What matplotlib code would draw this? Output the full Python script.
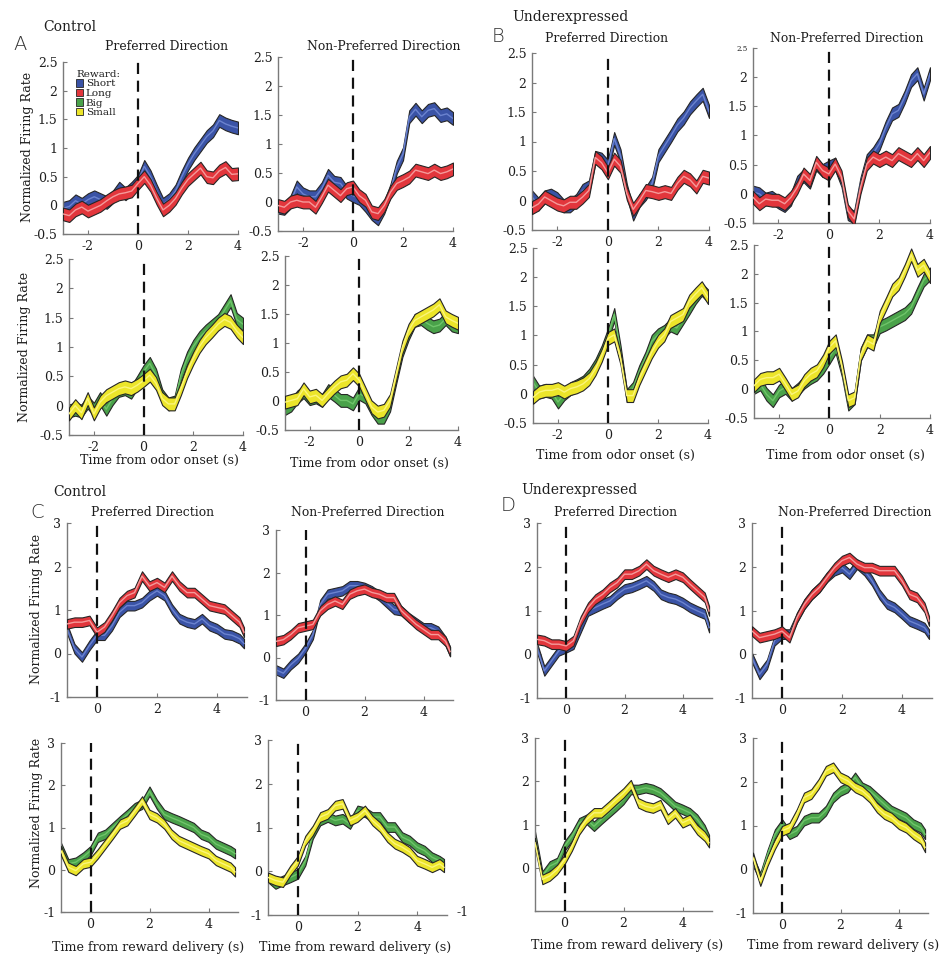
import numpy as np
import matplotlib
matplotlib.use("Agg")
import matplotlib.pyplot as plt
from matplotlib.patches import Patch
from matplotlib.ticker import FixedLocator, FixedFormatter

W, H = 944, 956
plt.rcParams['font.family'] = ['DejaVu Serif', 'DejaVu Sans']

# ---------------- time grids ----------------
t_odor = np.arange(-3, 4.01, 0.25)                       # 29 points
t_rew = np.append(np.arange(-1, 4.76, 0.25), 4.9)         # 25 points

# ---------------- data: odor onset (A = Control, B = Underexpressed) ----------------
A_pref_short = [-0.05, -0.02, 0.08, 0.02, 0.10, 0.15, 0.10, 0.05, 0.15, 0.30, 0.20, 0.30, 0.42, 0.68, 0.50,
                0.25, 0.02, 0.10, 0.25, 0.50, 0.72, 0.90, 1.05, 1.20, 1.30, 1.48, 1.42, 1.38, 1.35]
A_pref_long = [-0.15, -0.18, -0.08, -0.03, -0.10, -0.05, 0.00, 0.08, 0.15, 0.20, 0.22, 0.25, 0.38, 0.50, 0.35,
               0.12, -0.08, 0.00, 0.12, 0.30, 0.45, 0.55, 0.65, 0.50, 0.48, 0.60, 0.66, 0.54, 0.55]
A_non_short = [-0.09, -0.11, 0.00, 0.26, 0.14, 0.09, 0.09, 0.23, 0.46, 0.34, 0.32, 0.17, 0.11, 0.06, -0.06,
               -0.20, -0.29, -0.09, 0.20, 0.60, 0.83, 1.47, 1.60, 1.47, 1.58, 1.61, 1.49, 1.52, 1.44]
A_non_long = [-0.06, -0.09, 0.00, 0.03, 0.00, 0.00, -0.09, 0.09, 0.29, 0.20, 0.11, 0.23, 0.26, 0.11, 0.03,
              -0.17, -0.20, -0.06, 0.17, 0.32, 0.37, 0.43, 0.55, 0.52, 0.49, 0.55, 0.49, 0.52, 0.57]
A_pref_big = [-0.09, -0.06, -0.09, 0.06, -0.06, 0.12, -0.06, 0.12, 0.26, 0.29, 0.23, 0.40, 0.58, 0.72, 0.52,
              0.17, 0.03, 0.06, 0.52, 0.81, 1.01, 1.16, 1.27, 1.36, 1.45, 1.62, 1.79, 1.47, 1.39]
A_pref_small = [-0.14, 0.00, -0.12, 0.12, -0.14, 0.06, 0.17, 0.23, 0.29, 0.32, 0.29, 0.35, 0.43, 0.52, 0.38,
                0.12, 0.03, 0.03, 0.29, 0.58, 0.81, 1.01, 1.16, 1.27, 1.39, 1.47, 1.42, 1.27, 1.16]
A_non_big = [-0.13, -0.07, 0.07, 0.16, 0.04, 0.07, 0.01, 0.18, 0.10, 0.01, 0.01, -0.05, 0.13, 0.07, -0.13,
             -0.28, -0.28, -0.07, 0.41, 0.87, 1.16, 1.39, 1.42, 1.34, 1.28, 1.31, 1.42, 1.31, 1.28]
A_non_small = [-0.02, 0.01, 0.04, 0.21, 0.07, 0.10, 0.01, 0.13, 0.24, 0.33, 0.36, 0.47, 0.36, 0.13, -0.10,
               -0.19, -0.16, 0.01, 0.47, 0.93, 1.22, 1.39, 1.45, 1.51, 1.57, 1.66, 1.45, 1.39, 1.34]

B_pref_short = [0.06, -0.06, 0.06, 0.09, 0.03, -0.09, -0.09, 0.00, 0.17, 0.23, 0.73, 0.70, 0.58, 1.05, 0.76,
                0.17, -0.23, 0.00, 0.12, 0.29, 0.76, 0.93, 1.10, 1.28, 1.40, 1.57, 1.69, 1.80, 1.51]
B_pref_long = [-0.12, -0.06, 0.06, 0.00, -0.06, -0.09, -0.03, -0.03, 0.06, 0.17, 0.73, 0.64, 0.47, 0.70, 0.58,
               0.12, -0.15, 0.00, 0.17, 0.15, 0.12, 0.15, 0.12, 0.29, 0.41, 0.35, 0.23, 0.41, 0.38]
B_non_short = [0.03, 0.00, -0.09, -0.06, -0.14, -0.20, -0.09, 0.20, 0.31, 0.20, 0.51, 0.40, 0.46, 0.51, 0.23,
               -0.34, -0.40, 0.17, 0.57, 0.69, 0.86, 1.14, 1.37, 1.43, 1.66, 1.94, 2.06, 1.71, 2.06]
B_non_long = [-0.06, -0.17, -0.09, -0.11, -0.11, -0.17, -0.06, 0.11, 0.34, 0.23, 0.54, 0.40, 0.34, 0.51, 0.29,
              -0.29, -0.43, 0.11, 0.51, 0.63, 0.57, 0.63, 0.57, 0.69, 0.63, 0.57, 0.69, 0.57, 0.71]
B_pref_big = [0.20, 0.03, 0.06, 0.03, -0.14, 0.00, 0.09, 0.14, 0.20, 0.32, 0.49, 0.72, 1.01, 1.36, 0.72,
              -0.03, 0.09, 0.38, 0.61, 0.90, 1.01, 1.07, 1.18, 1.13, 1.30, 1.47, 1.65, 1.79, 1.68]
B_pref_small = [-0.06, 0.03, 0.06, 0.06, 0.09, 0.03, 0.09, 0.12, 0.17, 0.26, 0.43, 0.66, 0.95, 1.01, 0.61,
                -0.03, -0.03, 0.26, 0.49, 0.72, 0.90, 1.01, 1.24, 1.30, 1.36, 1.59, 1.71, 1.82, 1.65]
B_non_big = [0.03, 0.09, -0.09, -0.20, -0.03, 0.03, -0.09, 0.00, 0.12, 0.20, 0.26, 0.38, 0.55, 0.73, 0.32,
             -0.26, -0.15, 0.61, 0.84, 0.84, 1.08, 1.13, 1.19, 1.25, 1.31, 1.42, 1.66, 1.89, 2.00]
B_non_small = [0.06, 0.17, 0.20, 0.20, 0.26, 0.09, -0.09, -0.03, 0.15, 0.26, 0.32, 0.49, 0.73, 0.84, 0.38,
               -0.20, -0.15, 0.61, 0.84, 0.78, 1.25, 1.48, 1.72, 1.83, 2.06, 2.33, 2.06, 2.15, 1.95]

# ---------------- data: reward delivery (C = Control, D = Underexpressed) ----------------
C_pref_short = [0.57, 0.11, -0.08, 0.19, 0.42, 0.42, 0.64, 0.95, 1.10, 1.10, 1.17, 1.33, 1.44, 1.33, 1.02,
                0.80, 0.72, 0.68, 0.80, 0.64, 0.57, 0.45, 0.42, 0.34, 0.23]
C_pref_long = [0.68, 0.72, 0.72, 0.76, 0.49, 0.61, 0.87, 1.17, 1.33, 1.40, 1.78, 1.55, 1.63, 1.52, 1.78,
               1.55, 1.40, 1.40, 1.25, 1.10, 1.06, 1.02, 0.87, 0.72, 0.49]
C_non_short = [-0.29, -0.37, -0.17, -0.02, 0.22, 0.54, 1.25, 1.49, 1.53, 1.57, 1.69, 1.69, 1.65, 1.57, 1.45,
               1.29, 1.13, 1.10, 0.94, 0.82, 0.70, 0.70, 0.62, 0.38, 0.14]
C_non_long = [0.38, 0.42, 0.54, 0.70, 0.74, 0.78, 1.10, 1.25, 1.33, 1.25, 1.49, 1.57, 1.61, 1.53, 1.49,
              1.41, 1.41, 1.10, 0.94, 0.78, 0.66, 0.54, 0.54, 0.38, 0.14]
C_pref_big = [0.53, 0.14, 0.18, 0.30, 0.45, 0.77, 0.84, 1.00, 1.16, 1.31, 1.47, 1.55, 1.86, 1.55, 1.31,
              1.23, 1.16, 1.08, 1.00, 0.84, 0.77, 0.61, 0.53, 0.45, 0.38]
C_pref_small = [0.45, 0.06, -0.02, 0.14, 0.18, 0.38, 0.61, 0.84, 1.08, 1.16, 1.39, 1.63, 1.31, 1.23, 1.08,
                0.84, 0.69, 0.61, 0.53, 0.45, 0.38, 0.22, 0.14, 0.06, -0.05]
C_non_big = [-0.14, -0.29, -0.21, -0.14, -0.06, 0.24, 0.85, 1.16, 1.24, 1.16, 1.20, 1.08, 1.39, 1.35, 1.24,
             1.24, 1.01, 1.01, 0.78, 0.70, 0.55, 0.47, 0.32, 0.24, 0.17]
C_non_small = [-0.14, -0.21, -0.25, 0.02, 0.24, 0.70, 0.93, 1.24, 1.31, 1.50, 1.54, 1.16, 1.24, 1.39, 1.16,
               1.01, 0.78, 0.63, 0.55, 0.44, 0.24, 0.17, 0.09, 0.17, 0.09]

D_pref_short = [0.15, -0.38, -0.15, 0.08, 0.15, 0.23, 0.61, 0.99, 1.07, 1.15, 1.22, 1.37, 1.49, 1.53, 1.60,
                1.68, 1.56, 1.37, 1.30, 1.26, 1.18, 1.07, 0.99, 0.92, 0.61]
D_pref_long = [0.34, 0.31, 0.23, 0.23, 0.19, 0.31, 0.76, 1.07, 1.26, 1.37, 1.53, 1.64, 1.83, 1.83, 1.91,
               2.06, 1.91, 1.83, 1.76, 1.83, 1.76, 1.60, 1.45, 1.30, 0.99]
D_non_short = [-0.08, -0.46, -0.23, 0.31, 0.46, 0.46, 0.84, 1.15, 1.37, 1.53, 1.76, 1.91, 1.98, 1.83, 2.06,
               1.91, 1.68, 1.37, 1.15, 1.07, 0.92, 0.76, 0.69, 0.61, 0.46]
D_non_long = [0.53, 0.38, 0.42, 0.46, 0.53, 0.38, 0.84, 1.15, 1.37, 1.53, 1.76, 1.98, 2.14, 2.21, 2.06,
              1.98, 1.98, 1.91, 1.91, 1.91, 1.68, 1.37, 1.30, 1.07, 0.76]
D_pref_big = [0.73, -0.19, 0.04, 0.12, 0.50, 0.73, 1.04, 1.12, 0.96, 1.12, 1.27, 1.42, 1.58, 1.81, 1.81,
              1.85, 1.81, 1.73, 1.58, 1.42, 1.35, 1.27, 1.12, 0.88, 0.65]
D_pref_small = [0.58, -0.27, -0.19, -0.04, 0.19, 0.50, 0.88, 1.12, 1.27, 1.27, 1.42, 1.58, 1.73, 1.92, 1.50,
                1.42, 1.38, 1.46, 1.12, 1.27, 1.04, 1.12, 0.88, 0.73, 0.58]
D_non_big = [0.19, -0.19, 0.34, 0.80, 1.03, 0.80, 0.88, 1.11, 1.18, 1.18, 1.34, 1.64, 1.79, 1.87, 2.10,
             1.87, 1.79, 1.64, 1.49, 1.34, 1.26, 1.18, 1.03, 0.95, 0.80]
D_non_small = [0.27, -0.27, 0.19, 0.57, 0.88, 0.95, 1.26, 1.64, 1.72, 1.95, 2.25, 2.33, 2.10, 2.02, 1.87,
               1.79, 1.64, 1.41, 1.26, 1.18, 1.03, 0.95, 0.80, 0.69, 0.50]

SEM = 0.11   # half-width of shaded bands

# ---------------- labels ----------------
odor_yticks = [-0.5, 0, 0.5, 1, 1.5, 2, 2.5]
odor_ylabels = ['-0.5', '0', '0.5', '1', '1.5', '2', '2.5']
odor_xticks = [-2, 0, 2, 4]
odor_xlabels = ['-2', '0', '2', '4']
rew_yticks = [-1, 0, 1, 2, 3]
rew_ylabels = ['-1', '0', '1', '2', '3']
rew_xticks = [0, 2, 4]
rew_xlabels = ['0', '2', '4']
legend_labels = ['Short', 'Long', 'Big', 'Small']

# ---------------- colours ----------------
COL = {
    'Short': ('#3a53a6', '#6b83cf'),
    'Long': ('#e2363c', '#f49a9a'),
    'Big': ('#4aa24a', '#6fc46a'),
    'Small': ('#ece52a', '#fbf57a'),
}
EDGE = '#262626'
SPINE = '#7a7a7a'
TXT = '#1e1e1e'

fig = plt.figure(figsize=(W / 100, H / 100), dpi=100)


def fx(x):
    return x / W


def fy(y):
    return 1 - y / H


def make_axes(x0, x1, ytop, ybot, kind):
    ax = fig.add_axes([fx(x0), fy(ybot), (x1 - x0) / W, (ybot - ytop) / H])
    for s in ['top', 'right']:
        ax.spines[s].set_visible(False)
    for s in ['left', 'bottom']:
        ax.spines[s].set_color(SPINE)
        ax.spines[s].set_linewidth(1.0)
    if kind == 'odor':
        ax.set_xlim(-3, 4)
        ax.set_ylim(-0.5, 2.5)
        ax.xaxis.set_major_locator(FixedLocator(odor_xticks))
        ax.xaxis.set_major_formatter(FixedFormatter(odor_xlabels))
        ax.yaxis.set_major_locator(FixedLocator(odor_yticks))
        ax.yaxis.set_major_formatter(FixedFormatter(odor_ylabels))
    else:
        ax.set_xlim(-1, 5)
        ax.set_ylim(-1, 3)
        ax.xaxis.set_major_locator(FixedLocator(rew_xticks))
        ax.xaxis.set_major_formatter(FixedFormatter(rew_xlabels))
        ax.yaxis.set_major_locator(FixedLocator(rew_yticks))
        ax.yaxis.set_major_formatter(FixedFormatter(rew_ylabels))
    ax.tick_params(direction='in', length=3, width=0.8, color=SPINE,
                   labelsize=9, labelcolor=TXT, pad=4)
    ax.axvline(0, color='#111111', lw=1.6, ls=(0, (5, 3)), zorder=4)
    return ax


def band(ax, t, m, key, z):
    m = np.asarray(m, dtype=float)
    fc, cc = COL[key]
    ax.fill_between(t, m - SEM, m + SEM, facecolor=fc, edgecolor=EDGE,
                    linewidth=0.8, zorder=z)
    ax.plot(t, m, color=cc, lw=1.0, zorder=z + 0.1)


# (x0, x1, y_top, y_bottom, kind, t, series1, key1, series2, key2)
panels = [
    (63, 238, 62, 234, 'odor', t_odor, A_pref_short, 'Short', A_pref_long, 'Long'),
    (278, 453, 57, 231, 'odor', t_odor, A_non_short, 'Short', A_non_long, 'Long'),
    (69, 243, 259, 435, 'odor', t_odor, A_pref_big, 'Big', A_pref_small, 'Small'),
    (285, 458, 256, 430, 'odor', t_odor, A_non_big, 'Big', A_non_small, 'Small'),
    (532, 709, 53, 230, 'odor', t_odor, B_pref_short, 'Short', B_pref_long, 'Long'),
    (753, 930, 48, 223, 'odor', t_odor, B_non_short, 'Short', B_non_long, 'Long'),
    (533, 708, 248, 423, 'odor', t_odor, B_pref_big, 'Big', B_pref_small, 'Small'),
    (754, 930, 245, 418, 'odor', t_odor, B_non_big, 'Big', B_non_small, 'Small'),
    (67, 247, 523, 697, 'rew', t_rew, C_pref_short, 'Short', C_pref_long, 'Long'),
    (276, 453, 530, 700, 'rew', t_rew, C_non_short, 'Short', C_non_long, 'Long'),
    (61, 238, 743, 912, 'rew', t_rew, C_pref_big, 'Big', C_pref_small, 'Small'),
    (268, 447, 740, 915, 'rew', t_rew, C_non_big, 'Big', C_non_small, 'Small'),
    (537, 712, 523, 698, 'rew', t_rew, D_pref_short, 'Short', D_pref_long, 'Long'),
    (752, 932, 523, 698, 'rew', t_rew, D_non_short, 'Short', D_non_long, 'Long'),
    (535, 712, 738, 911, 'rew', t_rew, D_pref_big, 'Big', D_pref_small, 'Small'),
    (753, 928, 738, 913, 'rew', t_rew, D_non_big, 'Big', D_non_small, 'Small'),
]

axes = []
for (x0, x1, yt, yb, kind, t, s1, k1, s2, k2) in panels:
    ax = make_axes(x0, x1, yt, yb, kind)
    band(ax, t, s1, k1, 2)
    band(ax, t, s2, k2, 3)
    axes.append(ax)

# small "2.5" label in B non-preferred top panel
for lab in axes[5].get_yticklabels():
    if lab.get_text() == '2.5':
        lab.set_fontsize(5)
# D bottom-left shows no "-1" label
for lab in axes[14].get_yticklabels():
    if lab.get_text() == '-1':
        lab.set_visible(False)

# legend
handles = [Patch(facecolor=COL[k][0], edgecolor=EDGE, linewidth=0.6) for k in legend_labels]
leg = axes[0].legend(handles, legend_labels, title='Reward:', loc='upper left',
                     bbox_to_anchor=(fx(76), fy(70)), bbox_transform=fig.transFigure,
                     frameon=False, fontsize=7.5, title_fontsize=7.5, labelspacing=0.02,
                     handlelength=0.7, handleheight=0.7, handletextpad=0.25,
                     borderpad=0, borderaxespad=0, alignment='left')
for txt in leg.get_texts():
    txt.set_color(TXT)
leg.get_title().set_color(TXT)


def ftext(x, y, s, **kw):
    fig.text(fx(x), fy(y), s, ha='center', va='center', color=TXT, **kw)


TS = 8.9
XS = 9.1
ftext(70, 27, 'Control', fontsize=10)
ftext(570, 17, 'Underexpressed', fontsize=10)
ftext(80, 492, 'Control', fontsize=10)
ftext(579, 490, 'Underexpressed', fontsize=10)
for (x, y, s) in [(20, 45, 'A'), (498, 37, 'B'), (37, 513, 'C'), (508, 505, 'D')]:
    fig.text(fx(x), fy(y), s, ha='center', va='center', fontsize=14,
             family='DejaVu Sans', color='#333333', fontweight='light')

ftext(167, 47, 'Preferred Direction', fontsize=TS)
ftext(384, 46, 'Non-Preferred Direction', fontsize=TS)
ftext(607, 38, 'Preferred Direction', fontsize=TS)
ftext(847, 38, 'Non-Preferred Direction', fontsize=TS)
ftext(153, 513, 'Preferred Direction', fontsize=TS)
ftext(368, 513, 'Non-Preferred Direction', fontsize=TS)
ftext(616, 513, 'Preferred Direction', fontsize=TS)
ftext(855, 513, 'Non-Preferred Direction', fontsize=TS)

for (x, y) in [(27, 147), (25, 347), (37, 609), (37, 813)]:
    ftext(x, y, 'Normalized Firing Rate', fontsize=9, rotation=90)

for (x, y) in [(160, 460), (370, 463), (615, 455), (845, 455)]:
    ftext(x, y, 'Time from odor onset (s)', fontsize=XS)
for (x, y) in [(148, 947), (355, 947), (627, 946), (843, 946)]:
    ftext(x, y, 'Time from reward delivery (s)', fontsize=XS)

ftext(463, 913, '-1', fontsize=9)

fig.savefig('out.png', dpi=100)
